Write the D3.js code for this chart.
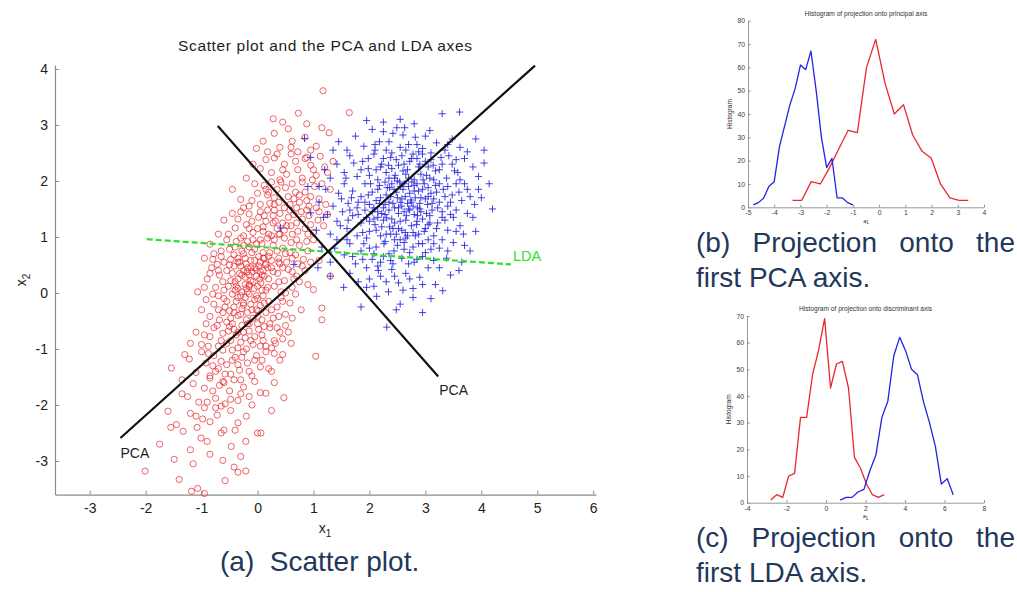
<!DOCTYPE html>
<html><head><meta charset="utf-8">
<script src="https://cdn.jsdelivr.net/npm/d3@7"></script>
<style>
body{margin:0;background:#fff;}
svg{display:block;font-family:"Liberation Sans",Arial,Helvetica,sans-serif;}
</style></head><body>
<svg id="fig" width="1017" height="592"></svg>
<script>
// ---- class 1 samples (red circles), [x1, x2]
const redPoints = [
[1.17,3.61],[0.73,3.21],[1.64,3.22],[0.28,3.11],[0.88,3.02],[0.45,3.05],
[0.10,2.71],[0.18,2.52],[0.55,2.93],[0.85,2.78],[1.05,2.62],[0.40,2.60],[0.62,2.71],[1.28,2.86],[0.95,2.55],[-0.02,2.58],[0.72,2.52],[1.15,2.95],
[-0.20,2.05],[0.05,2.22],[0.30,2.41],[0.52,2.12],[0.68,2.35],[0.80,2.05],[0.95,2.28],[1.12,2.44],[1.25,2.15],[0.40,2.02],[0.15,2.38],[0.60,2.48],[0.88,2.42],[1.05,2.10],[0.25,2.15],[-0.08,2.30],[0.72,2.20],[1.35,2.35],[0.48,2.30],[0.98,2.02],[0.35,2.48],[1.20,2.25],
[-0.30,1.67],[-0.45,1.85],[-0.15,1.55],[0.00,1.78],[0.12,1.92],[0.22,1.60],[0.35,1.85],[0.48,1.52],[0.55,1.72],[0.62,1.95],[0.75,1.62],[0.85,1.80],[0.92,1.55],[1.02,1.90],[1.10,1.68],[1.22,1.58],[1.30,1.85],[0.30,1.70],[0.42,1.98],[0.68,1.80],[0.18,1.75],[-0.05,1.95],[0.58,1.58],[0.80,1.98],[0.95,1.72],[0.05,1.58],[0.38,1.62],[0.70,1.52],[1.15,1.95],[-0.25,1.52],[0.25,1.98],[0.50,1.88],[0.88,1.65],[1.05,1.52],[0.15,1.85],[0.65,1.68],
[-0.15,1.41],[-0.40,1.16],[-0.60,1.30],[-0.52,1.05],[-0.30,1.45],[-0.20,1.22],[-0.08,1.08],[0.02,1.35],[0.10,1.18],[0.18,1.48],[0.25,1.02],[0.32,1.28],[0.40,1.42],[0.48,1.12],[0.55,1.35],[0.62,1.05],[0.70,1.25],[0.78,1.45],[0.85,1.15],[0.92,1.38],[1.00,1.08],[1.08,1.30],[1.18,1.20],[0.15,1.28],[0.35,1.15],[0.05,1.45],[-0.35,1.32],[0.58,1.48],[0.72,1.10],[0.28,1.38],[-0.10,1.28],[0.45,1.25],[0.88,1.48],[0.20,1.05],[0.65,1.40],[-0.25,1.02],[0.95,1.22],[0.38,1.05],[0.12,1.38],[0.52,1.20],[-0.45,1.42],[0.80,1.32],[1.25,1.40],[0.00,1.15],[0.30,1.48],
[-0.85,0.87],[-0.72,0.51],[-0.95,0.62],[-0.65,0.75],[-0.55,0.95],[-0.48,0.60],[-0.40,0.82],[-0.32,0.55],[-0.25,0.70],[-0.18,0.92],[-0.12,0.58],[-0.05,0.78],[0.02,0.65],[0.08,0.88],[0.15,0.52],[0.22,0.72],[0.30,0.95],[0.38,0.62],[0.45,0.80],[0.52,0.55],[0.60,0.90],[0.68,0.68],[0.75,0.85],[0.82,0.60],[0.90,0.75],[1.00,0.95],[1.10,0.58],[-0.30,0.98],[-0.60,0.55],[-0.20,0.52],[0.10,0.72],[0.25,0.58],[-0.08,0.95],[0.35,0.75],[0.48,0.98],[0.58,0.72],[-0.42,0.68],[-0.15,0.82],[0.05,0.55],[0.18,0.98],[0.72,0.52],[-0.78,0.70],[0.40,0.52],[0.88,0.92],[-0.35,0.62],[0.12,0.62],[-0.02,0.88],[0.28,0.85],[-0.50,0.78],[0.62,0.62],[0.20,0.65],[-0.25,0.85],
[-1.07,0.02],[-0.90,0.25],[-0.82,0.45],[-0.75,0.10],[-0.68,0.32],[-0.60,0.05],[-0.55,0.40],[-0.48,0.22],[-0.42,0.48],[-0.38,0.12],[-0.32,0.35],[-0.28,0.02],[-0.22,0.28],[-0.18,0.45],[-0.15,0.15],[-0.10,0.38],[-0.06,0.08],[-0.02,0.30],[0.02,0.48],[0.06,0.18],[0.10,0.40],[0.15,0.05],[0.20,0.25],[0.25,0.45],[0.30,0.12],[0.36,0.35],[0.42,0.02],[0.48,0.22],[0.55,0.42],[0.62,0.10],[0.70,0.30],[0.80,0.48],[0.90,0.15],[1.00,0.06],[1.30,0.30],[-0.25,0.40],[-0.12,0.22],[0.00,0.12],[-0.35,0.25],[-0.05,0.45],[-0.20,0.08],[0.12,0.30],[-0.45,0.35],[-0.30,0.48],[0.05,0.38],[-0.15,0.32],[-0.08,0.20],[-0.40,0.05],[0.18,0.45],[-0.62,0.20],[0.38,0.20],[-0.22,0.15],[0.08,0.05],[-0.52,0.12],[0.28,0.38],[-0.02,0.42],[-0.18,0.38],[0.45,0.45],[0.65,0.25],[-0.85,0.35],
[-1.00,-0.30],[-0.92,-0.12],[-0.85,-0.42],[-0.78,-0.20],[-0.70,-0.05],[-0.62,-0.35],[-0.55,-0.15],[-0.48,-0.45],[-0.42,-0.25],[-0.35,-0.08],[-0.30,-0.38],[-0.25,-0.18],[-0.20,-0.48],[-0.15,-0.02],[-0.10,-0.30],[-0.05,-0.12],[0.00,-0.42],[0.05,-0.22],[0.10,-0.05],[0.15,-0.35],[0.20,-0.15],[0.28,-0.45],[0.35,-0.25],[0.42,-0.08],[0.50,-0.38],[0.58,-0.18],[0.68,-0.02],[0.78,-0.30],[1.15,-0.27],[1.15,-0.48],[-0.58,-0.25],[-0.38,-0.15],[-0.18,-0.35],[-0.02,-0.05],[0.12,-0.18],[-0.45,-0.02],[-0.28,-0.28],[-0.08,-0.45],[0.25,-0.30],[-0.68,-0.48],[0.38,-0.42],[-0.12,-0.20],[0.02,-0.32],[-0.50,-0.32],[0.62,-0.45],[-0.22,-0.08],[0.45,-0.15],[-0.80,-0.02],[0.08,-0.48],[-0.35,-0.40],
[-1.10,-0.70],[-1.00,-0.92],[-0.92,-0.55],[-0.85,-0.78],[-0.78,-0.62],[-0.70,-0.95],[-0.62,-0.72],[-0.55,-0.52],[-0.48,-0.85],[-0.42,-0.65],[-0.35,-0.98],[-0.28,-0.58],[-0.22,-0.80],[-0.15,-0.68],[-0.08,-0.92],[0.00,-0.55],[0.08,-0.75],[0.15,-0.95],[0.22,-0.62],[0.30,-0.85],[0.40,-0.70],[0.50,-0.58],[0.60,-0.90],[-0.65,-0.85],[-0.38,-0.75],[-0.18,-0.55],[-0.05,-0.78],[0.12,-0.60],[-0.52,-0.68],[-0.30,-0.88],[0.05,-0.95],[-0.88,-0.95],[-0.45,-0.55],[0.35,-0.62],[-0.12,-0.85],[-0.72,-0.58],[0.25,-0.98],[-0.25,-0.70],[0.45,-0.82],[-0.95,-0.75],
[-1.54,-1.34],[-1.22,-1.18],[-1.10,-1.42],[-1.00,-1.05],[-0.92,-1.25],[-0.85,-1.48],[-0.78,-1.12],[-0.70,-1.35],[-0.62,-1.02],[-0.55,-1.28],[-0.48,-1.45],[-0.40,-1.15],[-0.32,-1.38],[-0.25,-1.05],[-0.18,-1.25],[-0.10,-1.48],[-0.02,-1.12],[0.05,-1.32],[0.15,-1.05],[0.25,-1.40],[0.40,-1.20],[1.04,-1.13],[-0.65,-1.22],[-0.45,-1.02],[-0.35,-1.28],[-0.15,-1.40],[0.08,-1.20],[-0.88,-1.08],[-0.58,-1.45],[-0.28,-1.15],[0.30,-1.08],[-0.75,-1.40],
[-1.35,-1.55],[-1.25,-1.85],[-1.15,-1.62],[-1.05,-1.95],[-0.95,-1.70],[-0.85,-1.52],[-0.75,-1.88],[-0.68,-1.65],[-0.58,-1.98],[-0.50,-1.75],[-0.42,-1.55],[-0.35,-1.92],[-0.25,-1.68],[-0.15,-1.85],[-0.05,-1.58],[0.05,-1.78],[0.15,-1.79],[0.30,-1.60],[0.47,-1.87],[-0.80,-1.75],[-0.62,-1.58],[-0.30,-1.80],[-0.90,-1.95],[-0.48,-1.90],
[-1.60,-2.11],[-1.45,-2.35],[-1.33,-2.47],[-1.20,-2.15],[-1.08,-2.40],[-0.95,-2.05],[-0.85,-2.30],[-0.72,-2.18],[-0.60,-2.45],[-0.48,-2.10],[-0.35,-2.32],[-0.20,-2.20],[0.00,-2.50],[0.06,-2.50],[-0.98,-2.25],[-0.65,-2.02],
[-1.49,-2.97],[-1.01,-2.59],[-0.47,-2.74],[-0.21,-2.65],[-0.62,-2.99],[-1.20,-2.80],[-0.85,-2.88],[-1.75,-2.70],[-0.30,-2.92],
[-2.01,-3.18],[-1.40,-3.33],[-1.18,-3.54],[-1.07,-3.49],[-0.42,-3.11],[-0.21,-3.18],[-0.95,-3.58],[-0.35,-3.20],
[-0.28,0.32],[-0.12,0.45],[0.04,0.25],[-0.35,0.55],[-0.22,0.62],[-0.05,0.58],[0.14,0.50],[-0.40,0.20],[-0.18,0.02],[0.00,-0.10],[-0.30,-0.05],[0.18,0.10],[-0.50,0.50],[-0.65,0.65],[-0.10,0.72],[0.08,0.32],[-0.25,-0.22],[-0.42,-0.35],[-0.15,-0.55],[0.02,-0.65],[-0.35,-0.70],[-0.55,-0.90],[-0.20,-1.00],[-0.45,-1.20],[-0.60,-1.60],[-0.30,-1.55],[-0.75,-2.05],[-0.40,-2.45],[-0.90,-2.65],[-0.10,-2.00],
[0.20,-1.35],[0.32,-0.90],[0.55,-0.70],[0.50,0.00],[0.75,0.20],[0.85,0.40],[0.95,0.55],[0.70,0.95],[0.40,1.05],[0.10,1.10],[-0.15,1.15],[0.60,1.20],[0.90,1.05],[1.10,1.45],[0.30,1.58],[0.75,1.75],[1.00,2.20],[0.45,2.20],[0.20,1.80],[-0.10,1.65],[0.85,2.40],[0.60,2.60],[0.30,2.85],[-0.70,1.05],[-0.80,0.60],[-0.95,0.10],[-0.70,-0.30],[-1.20,-0.90],[-1.35,-1.80],[-1.10,-2.20],
[-0.65,-2.50],[0.25,-2.10],[-0.05,-1.20],[0.10,-0.85],[-0.80,-1.30],[-0.50,-0.60],[0.38,0.55],[0.62,0.38],[-0.38,0.92],[0.05,0.95],[0.28,1.25],[-0.60,-0.10],[-0.15,0.12],[0.22,-0.55],[0.45,-1.10],[-1.30,-1.10],[-1.55,-2.40],[-0.58,-3.35],[-1.15,-3.05],[0.10,0.62],[-0.35,0.08],[-0.02,-0.30],[-0.28,0.75],[-0.70,0.40],[0.50,0.70]
];

// ---- class 2 samples (blue crosses), [x1, x2]
const bluePoints = [
[3.61,3.23],[3.30,3.20],[2.25,3.05],[2.55,3.10],[2.80,3.02],[1.95,3.08],
[1.60,2.55],[1.75,2.80],[1.90,2.62],[2.05,2.92],[2.18,2.70],[2.30,2.55],[2.42,2.85],[2.49,2.95],[2.63,2.95],[2.70,2.65],[2.82,2.78],[2.95,2.58],[3.08,2.90],[3.20,2.68],[3.35,2.55],[3.48,2.75],[3.62,2.60],[2.25,2.88],[2.55,2.60],[2.88,2.52],[1.45,2.70],[3.75,2.52],[2.10,2.55],[3.00,2.80],
[1.30,2.05],[1.42,2.30],[1.55,2.15],[1.65,2.45],[1.78,2.08],[1.88,2.35],[1.98,2.22],[2.08,2.48],[2.15,2.02],[2.22,2.30],[2.30,2.15],[2.38,2.42],[2.45,2.05],[2.52,2.28],[2.58,2.45],[2.65,2.12],[2.72,2.35],[2.80,2.02],[2.88,2.25],[2.95,2.48],[3.02,2.10],[3.10,2.38],[3.18,2.18],[3.28,2.42],[3.38,2.05],[3.48,2.30],[3.58,2.15],[3.70,2.40],[3.85,2.25],[3.95,2.08],[4.05,2.32],[2.40,2.22],[2.62,2.30],[2.85,2.40],[3.05,2.25],[2.00,2.10],[2.25,2.40],[2.70,2.05],[3.25,2.20],[1.85,2.20],[2.48,2.38],[2.92,2.12],[3.42,2.45],[2.12,2.20],[3.62,2.02],[1.72,2.32],[2.78,2.48],[3.15,2.02],[2.35,2.05],[3.55,2.38],
[1.10,1.62],[1.22,1.85],[1.35,1.55],[1.45,1.78],[1.55,1.95],[1.62,1.60],[1.70,1.82],[1.78,1.52],[1.85,1.72],[1.92,1.95],[2.00,1.58],[2.05,1.80],[2.12,1.65],[2.18,1.92],[2.25,1.52],[2.30,1.75],[2.36,1.88],[2.42,1.60],[2.48,1.80],[2.54,1.98],[2.58,1.55],[2.64,1.72],[2.70,1.90],[2.75,1.62],[2.80,1.82],[2.86,1.52],[2.92,1.70],[2.98,1.95],[3.04,1.58],[3.10,1.78],[3.18,1.92],[3.25,1.62],[3.32,1.85],[3.40,1.55],[3.48,1.75],[3.55,1.95],[3.65,1.65],[3.75,1.85],[3.88,1.58],[4.14,1.95],[2.20,1.70],[2.40,1.95],[2.60,1.85],[2.78,1.55],[2.95,1.85],[3.15,1.68],[2.35,1.62],[2.50,1.70],[2.68,1.60],[2.85,1.95],[3.00,1.68],[2.15,1.85],[2.45,1.52],[2.72,1.78],[3.22,1.52],[1.98,1.75],[2.28,1.98],[2.55,1.62],[2.90,1.60],[3.35,1.72],[1.80,1.62],[2.62,1.95],[3.05,1.88],[3.60,1.80],[4.00,1.70],[2.08,1.52],[2.82,1.70],[3.45,1.62],[1.50,1.68],[3.80,1.72],
[1.05,1.12],[1.18,1.35],[1.30,1.05],[1.42,1.28],[1.52,1.45],[1.60,1.15],[1.70,1.38],[1.78,1.02],[1.85,1.25],[1.92,1.48],[2.00,1.10],[2.08,1.32],[2.15,1.45],[2.22,1.18],[2.28,1.40],[2.31,1.34],[2.38,1.05],[2.45,1.25],[2.52,1.42],[2.58,1.12],[2.65,1.30],[2.72,1.48],[2.78,1.08],[2.85,1.28],[2.92,1.45],[3.00,1.15],[3.08,1.38],[3.15,1.02],[3.22,1.25],[3.30,1.45],[3.40,1.12],[3.50,1.35],[3.62,1.20],[3.75,1.42],[3.90,1.10],[2.10,1.22],[2.35,1.48],[2.55,1.28],[2.75,1.20],[2.95,1.32],[2.20,1.02],[2.62,1.45],[2.42,1.15],[2.88,1.05],[3.12,1.48],[1.95,1.35],[2.68,1.02],[3.35,1.30],[2.25,1.30],[2.80,1.40],[1.65,1.48],[3.05,1.22],[2.48,1.05],[3.55,1.48],[2.05,1.45],[3.68,1.05],
[1.15,0.82],[1.30,0.55],[1.42,0.95],[1.55,0.68],[1.65,0.88],[1.75,0.52],[1.85,0.75],[1.95,0.98],[2.05,0.60],[2.12,0.82],[2.20,0.55],[2.28,0.92],[2.35,0.70],[2.42,0.52],[2.50,0.85],[2.58,0.62],[2.65,0.98],[2.72,0.72],[2.80,0.55],[2.88,0.88],[2.95,0.65],[3.05,0.95],[3.15,0.58],[3.25,0.80],[3.38,0.62],[3.50,0.90],[3.65,0.55],[3.80,0.75],[2.00,0.80],[2.25,0.65],[2.45,0.95],[2.62,0.78],[2.85,0.60],[3.10,0.78],[2.38,0.58],[1.88,0.60],[2.70,0.52],[3.00,0.72],[3.30,0.95],[1.60,0.95],
[1.54,0.10],[1.65,0.35],[1.80,0.20],[1.95,0.45],[2.08,0.12],[2.20,0.30],[2.34,0.02],[2.40,0.42],[2.52,0.18],[2.65,0.35],[2.78,0.08],[2.90,0.28],[3.05,0.45],[3.18,0.15],[3.31,0.04],[3.45,0.32],[2.15,0.48],[2.60,0.05],[2.00,0.25],[3.60,0.40],[2.30,0.20],
[2.13,-0.06],[2.78,-0.08],[2.31,-0.61],[1.85,-0.25],[2.95,-0.35],[2.55,-0.20],[3.10,-0.10],
[0.84,2.76],[0.95,2.42],[0.95,1.43],[0.65,0.51],[0.41,1.16],[0.90,1.90],
[2.22,1.42],[2.38,1.72],[2.52,1.52],[2.66,1.38],[2.74,1.66],[2.88,1.82],[3.02,1.42],[3.12,1.60],[2.18,1.60],[2.32,1.88],[2.46,2.10],[2.60,2.18],[2.76,1.98],[2.90,2.30],[3.08,2.05],[3.20,1.80],[3.30,1.35],[2.40,1.32],[2.56,1.90],[2.68,2.20],[2.84,1.22],[2.98,1.10],[2.12,1.12],[2.26,0.88],[2.44,0.75],[2.62,0.90],[2.78,0.82],[2.95,0.88],[3.20,1.15],[3.40,1.90],
[3.52,2.18],[3.70,1.95],[3.85,1.35],[3.95,1.85],[2.02,1.95],[1.92,1.62],[1.80,1.40],[1.68,1.70],[1.58,2.05],[1.48,1.20],[1.38,0.80],[1.25,1.40],[2.10,2.65],[2.35,2.70],[2.60,2.82],[2.85,2.65],[3.10,2.50],[3.30,2.30],[2.52,1.15],[2.70,1.50],[2.86,1.38],[3.05,1.72],[2.28,1.58],[2.44,1.85],[2.58,1.68],[2.36,1.18],[2.96,2.02],[3.14,2.28],[2.20,2.25],[1.98,2.40],
[2.65,2.55],[2.16,0.40],[2.45,0.30],[2.72,0.25],[2.95,0.15],[2.48,-0.30],[1.95,0.10],[3.25,0.45],[3.40,0.75],[3.55,1.10],[3.70,0.85],[1.70,0.65],[1.90,0.88],[2.08,0.70],[2.30,1.05],[2.55,0.95],[2.82,1.02],[3.15,0.88],[2.00,1.28],[2.90,1.50],[3.25,1.95],[3.45,1.40],[2.40,2.50],[2.75,2.40],[3.00,2.35],[3.40,2.65],[2.15,1.35],[2.64,1.08],[3.08,1.25],[2.34,2.28],
[2.50,2.00],[2.80,1.92],[1.88,1.08],[1.62,1.30],[4.20,1.50],[4.05,2.55],[3.90,2.75],[1.35,2.55],[1.20,2.20],[1.10,1.90],[1.08,0.45],[1.30,0.30]
];

// ---- projection axes drawn across the scatter (segment end points)
const pcaAxisMajor = [[-2.45,-2.59],[4.96,4.06]];
const pcaAxisMinor = [[-0.71,2.98],[3.23,-1.49]];
const ldaAxis = [[-1.98,0.96],[4.53,0.51]];

const scatterXTicks = [-3,-2,-1,0,1,2,3,4,5,6];
const scatterYTicks = [-3,-2,-1,0,1,2,3,4];

// ---- histogram of the projection onto the principal axis
const pcaRedCenters = [-3.30,-2.95,-2.59,-2.24,-1.89,-1.54,-1.18,-0.83,-0.48,-0.13,0.23,0.58,0.93,1.28,1.64,1.99,2.34,2.70,3.05,3.40];
const pcaRedCounts  = [3,3,11,10,17,25,33,32,60,72,53,40,44,31,24,21,10,4,3,3];
const pcaBlueCenters = [-4.8,-4.6,-4.4,-4.2,-4.0,-3.8,-3.6,-3.4,-3.2,-3.0,-2.8,-2.6,-2.4,-2.2,-2.0,-1.8,-1.6,-1.4,-1.2,-1.0];
const pcaBlueCounts  = [1,2,4,9,11,26,35,44,51,61,59,67,50,30,17,21,4,4,2,1];
const pcaXTicks = [-5,-4,-3,-2,-1,0,1,2,3,4];
const pcaYTicks = [0,10,20,30,40,50,60,70,80];

// ---- histogram of the projection onto the discriminant axis
const ldaRedCenters = [-2.80,-2.50,-2.19,-1.89,-1.59,-1.29,-0.98,-0.68,-0.38,-0.07,0.23,0.53,0.83,1.14,1.44,1.74,2.05,2.35,2.65,2.95];
const ldaRedCounts  = [1,3,2,10,11,32,32,48,57,69,43,52,53,43,17,13,7,3,2,3];
const ldaBlueCenters = [0.72,1.02,1.32,1.62,1.92,2.22,2.53,2.83,3.13,3.43,3.73,4.03,4.33,4.63,4.93,5.24,5.54,5.84,6.14,6.44];
const ldaBlueCounts  = [1,2,2,4,5,12,18,32,38,55,62,57,50,48,38,30,21,7,9,3];
const ldaXTicks = [-4,-2,0,2,4,6,8];
const ldaYTicks = [0,10,20,30,40,50,60,70];

const RED = "#e8282c", BLUE = "#2424e0", GREEN = "#2ee02e";
const AXIS_GRAY = "#8c8c8c", INK = "#1e1e1e", CAPTION = "#22375a";

const svg = d3.select("#fig");

// ===================== (a) scatter plot =====================
const sx = d3.scaleLinear().domain([-3.62, 6.05]).range([55, 596]);
const sy = d3.scaleLinear().domain([-3.6, 4.07]).range([494.6, 65]);

const gA = svg.append("g");

function styleAxis(g, fontSize, textColor) {
  g.select(".domain").attr("stroke", AXIS_GRAY).attr("stroke-width", 1.2);
  g.selectAll(".tick line").attr("stroke", AXIS_GRAY).attr("stroke-width", 1);
  g.selectAll(".tick text").attr("fill", textColor).style("font-size", fontSize + "px")
    .style("font-family", '"Liberation Sans", Arial, sans-serif');
}

gA.append("g").attr("transform", `translate(0,${sy.range()[0]})`)
  .call(d3.axisBottom(sx).tickValues(scatterXTicks).tickFormat(d => String(d))
        .tickSizeInner(-4).tickSizeOuter(0).tickPadding(8))
  .call(g => styleAxis(g, 14, INK));
gA.append("g").attr("transform", `translate(${sx.range()[0]},0)`)
  .call(d3.axisLeft(sy).tickValues(scatterYTicks).tickFormat(d => String(d))
        .tickSizeInner(-4).tickSizeOuter(0).tickPadding(7))
  .call(g => styleAxis(g, 14, INK));

gA.append("g").selectAll("circle").data(redPoints).join("circle")
  .attr("cx", d => sx(d[0])).attr("cy", d => sy(d[1])).attr("r", 3.1)
  .attr("fill", "none").attr("stroke", RED).attr("stroke-width", 0.85).attr("stroke-opacity", 0.85);

gA.append("g").selectAll("path").data(bluePoints).join("path")
  .attr("d", d => `M${sx(d[0]) - 3.6},${sy(d[1])}h7.2M${sx(d[0])},${sy(d[1]) - 3.6}v7.2`)
  .attr("stroke", BLUE).attr("stroke-width", 0.95).attr("stroke-opacity", 0.9);

const seg = d3.line().x(d => sx(d[0])).y(d => sy(d[1]));
gA.append("path").attr("d", seg(ldaAxis)).attr("fill", "none")
  .attr("stroke", GREEN).attr("stroke-width", 2.2).attr("stroke-dasharray", "6,3");
gA.append("path").attr("d", seg(pcaAxisMajor)).attr("fill", "none")
  .attr("stroke", "#111").attr("stroke-width", 2.2);
gA.append("path").attr("d", seg(pcaAxisMinor)).attr("fill", "none")
  .attr("stroke", "#111").attr("stroke-width", 2.2);

gA.append("text").attr("x", sx(pcaAxisMajor[0][0])).attr("y", sy(pcaAxisMajor[0][1]) + 20)
  .attr("fill", INK).style("font-size", "14px").text("PCA");
gA.append("text").attr("x", sx(pcaAxisMinor[1][0]) + 1).attr("y", sy(pcaAxisMinor[1][1]) + 19)
  .attr("fill", INK).style("font-size", "14px").text("PCA");
gA.append("text").attr("x", sx(ldaAxis[1][0]) + 2).attr("y", sy(ldaAxis[1][1]) - 3)
  .attr("fill", GREEN).style("font-size", "14.5px").text("LDA");

gA.append("text").attr("x", 325).attr("y", 51).attr("text-anchor", "middle")
  .attr("fill", INK).style("font-size", "15.5px")
  .attr("textLength", 294).attr("lengthAdjust", "spacing")
  .text("Scatter plot and the PCA and LDA axes");

const xl = gA.append("text").attr("x", 325).attr("y", 533).attr("text-anchor", "middle")
  .attr("fill", INK).style("font-size", "14px");
xl.append("tspan").text("x");
xl.append("tspan").attr("dy", 4).style("font-size", "10px").text("1");

const yl = gA.append("text").attr("transform", "translate(26,280) rotate(-90)")
  .attr("text-anchor", "middle").attr("fill", INK).style("font-size", "14px");
yl.append("tspan").text("x");
yl.append("tspan").attr("dy", 4).style("font-size", "10px").text("2");

// ===================== histogram panels =====================
function histogramPanel(cfg) {
  const g = svg.append("g");
  const x = d3.scaleLinear().domain(cfg.xDomain).range(cfg.xRange);
  const y = d3.scaleLinear().domain(cfg.yDomain).range(cfg.yRange);

  g.append("g").attr("transform", `translate(0,${cfg.yRange[0]})`)
    .call(d3.axisBottom(x).tickValues(cfg.xTicks).tickFormat(d => String(d))
          .tickSizeInner(-2.5).tickSizeOuter(0).tickPadding(3))
    .call(a => styleAxis(a, 6.8, "#3a3a3a"));
  g.append("g").attr("transform", `translate(${cfg.xRange[0]},0)`)
    .call(d3.axisLeft(y).tickValues(cfg.yTicks).tickFormat(d => String(d))
          .tickSizeInner(-2.5).tickSizeOuter(0).tickPadding(3))
    .call(a => styleAxis(a, 6.8, "#3a3a3a"));
  g.selectAll(".domain").attr("stroke-width", 0.9);

  const line = d3.line().x(d => x(d[0])).y(d => y(d[1]));
  [[cfg.redX, cfg.redY, RED], [cfg.blueX, cfg.blueY, BLUE]].forEach(([xs, ys, col]) => {
    g.append("path").attr("d", line(d3.zip(xs, ys))).attr("fill", "none")
      .attr("stroke", col).attr("stroke-width", 1.3).attr("stroke-linejoin", "round");
  });

  g.append("text").attr("x", (cfg.xRange[0] + cfg.xRange[1]) / 2).attr("y", cfg.titleY)
    .attr("text-anchor", "middle").attr("fill", "#333").style("font-size", "6.6px").text(cfg.title);
  g.append("text").attr("transform", `translate(${cfg.xRange[0] - 16},${(cfg.yRange[0] + cfg.yRange[1]) / 2}) rotate(-90)`)
    .attr("text-anchor", "middle").attr("fill", "#333").style("font-size", "6.6px").text("Histogram");
  const lab = g.append("text").attr("x", (cfg.xRange[0] + cfg.xRange[1]) / 2).attr("y", cfg.yRange[0] + 15.5)
    .attr("text-anchor", "middle").attr("fill", "#333").style("font-size", "5.8px");
  lab.append("tspan").text("a");
  lab.append("tspan").attr("dy", 1.5).style("font-size", "4.5px").text("1");
}

histogramPanel({
  xDomain: [-5, 4], xRange: [748, 984], yDomain: [0, 80], yRange: [207.3, 20.7],
  xTicks: pcaXTicks, yTicks: pcaYTicks, titleY: 15.5,
  title: "Histogram of projection onto principal axis",
  redX: pcaRedCenters, redY: pcaRedCounts, blueX: pcaBlueCenters, blueY: pcaBlueCounts
});

histogramPanel({
  xDomain: [-4, 8], xRange: [747, 984], yDomain: [0, 70], yRange: [502.7, 316],
  xTicks: ldaXTicks, yTicks: ldaYTicks, titleY: 310.5,
  title: "Histogram of projection onto discriminant axis",
  redX: ldaRedCenters, redY: ldaRedCounts, blueX: ldaBlueCenters, blueY: ldaBlueCounts
});

// ===================== sub-figure captions =====================
function justifiedLine(words, x0, x1, y) {
  const g = svg.append("g");
  const nodes = words.map(w => g.append("text").attr("y", y).attr("fill", CAPTION)
    .style("font-size", "28px").text(w));
  const widths = nodes.map(n => n.node().getComputedTextLength());
  const gap = (x1 - x0 - d3.sum(widths)) / (words.length - 1);
  let cx = x0;
  nodes.forEach((n, i) => { n.attr("x", cx); cx += widths[i] + gap; });
}

svg.append("text").attr("x", 220).attr("y", 571).attr("fill", CAPTION)
  .style("font-size", "28px").attr("xml:space", "preserve").style("white-space", "pre")
  .text("(a)  Scatter plot.");

justifiedLine(["(b)", "Projection", "onto", "the"], 696, 1015, 251.5);
svg.append("text").attr("x", 696).attr("y", 286.5).attr("fill", CAPTION)
  .style("font-size", "28px").text("first PCA axis.");

justifiedLine(["(c)", "Projection", "onto", "the"], 696, 1015, 546.5);
svg.append("text").attr("x", 696).attr("y", 581.5).attr("fill", CAPTION)
  .style("font-size", "28px").text("first LDA axis.");
</script>
</body></html>
